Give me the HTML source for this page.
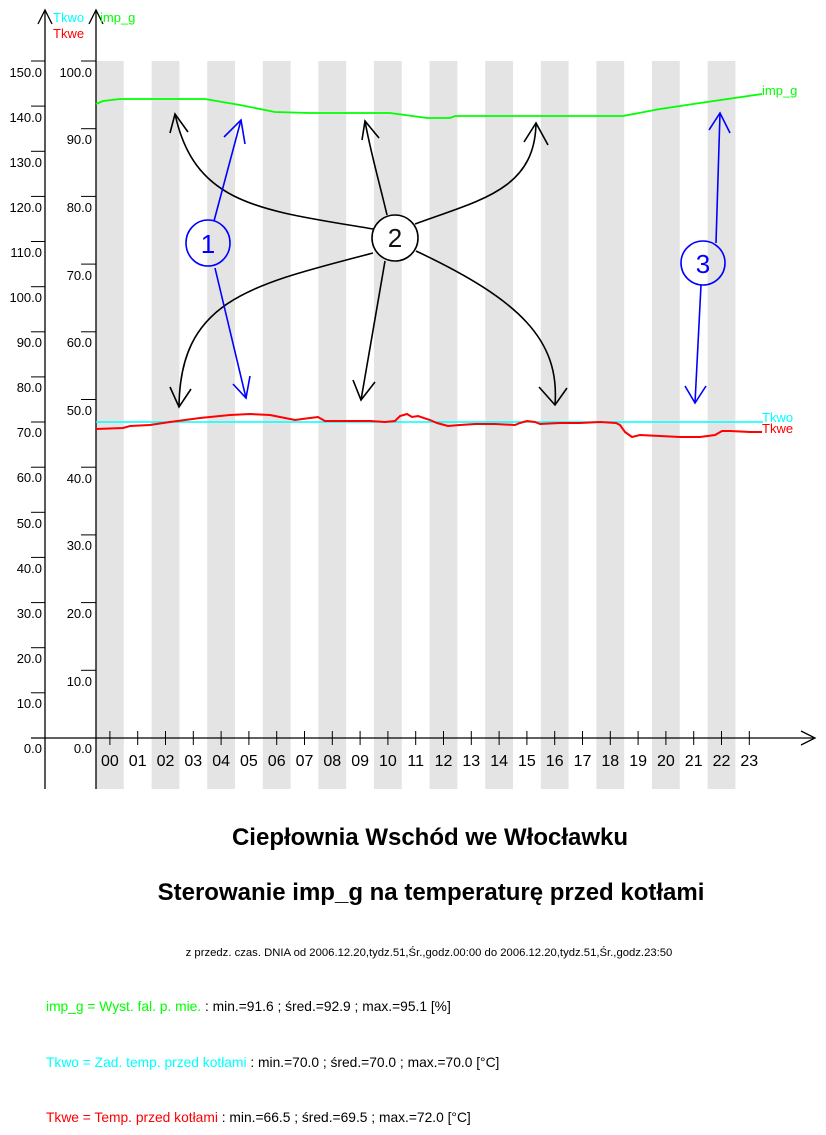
<!DOCTYPE html>
<html><head><meta charset="utf-8"><style>
html,body{margin:0;padding:0;background:#fff;}
svg{display:block;}
text{font-family:"Liberation Sans",Arial,sans-serif;}
</style></head><body>
<svg width="826" height="1135" viewBox="0 0 826 1135" xmlns="http://www.w3.org/2000/svg">
<g fill="#e4e4e4">
<rect x="96" y="61" width="27.8" height="728"/>
<rect x="151.6" y="61" width="27.8" height="728"/>
<rect x="207.2" y="61" width="27.8" height="728"/>
<rect x="262.8" y="61" width="27.8" height="728"/>
<rect x="318.4" y="61" width="27.8" height="728"/>
<rect x="374" y="61" width="27.8" height="728"/>
<rect x="429.6" y="61" width="27.8" height="728"/>
<rect x="485.2" y="61" width="27.8" height="728"/>
<rect x="540.8" y="61" width="27.8" height="728"/>
<rect x="596.4" y="61" width="27.8" height="728"/>
<rect x="652" y="61" width="27.8" height="728"/>
<rect x="707.6" y="61" width="27.8" height="728"/>
</g>
<g stroke="#000" stroke-width="1.3" fill="none">
<line x1="45" y1="10" x2="45" y2="789"/>
<line x1="96" y1="10" x2="96" y2="789"/>
<polyline points="38,24 45,10 52,24"/>
<polyline points="89,24 96,10 103,24"/>
<line x1="31" y1="738" x2="815" y2="738"/>
<polyline points="801,731 815,738 801,745"/>
</g>
<g stroke="#000" stroke-width="1">
<line x1="31" y1="61" x2="45" y2="61"/><line x1="31" y1="106.1" x2="45" y2="106.1"/><line x1="31" y1="151.3" x2="45" y2="151.3"/><line x1="31" y1="196.4" x2="45" y2="196.4"/><line x1="31" y1="241.5" x2="45" y2="241.5"/><line x1="31" y1="286.7" x2="45" y2="286.7"/><line x1="31" y1="331.8" x2="45" y2="331.8"/><line x1="31" y1="376.9" x2="45" y2="376.9"/><line x1="31" y1="422" x2="45" y2="422"/><line x1="31" y1="467.2" x2="45" y2="467.2"/><line x1="31" y1="512.3" x2="45" y2="512.3"/><line x1="31" y1="557.4" x2="45" y2="557.4"/><line x1="31" y1="602.6" x2="45" y2="602.6"/><line x1="31" y1="647.7" x2="45" y2="647.7"/><line x1="31" y1="692.8" x2="45" y2="692.8"/>
<line x1="81" y1="61" x2="96" y2="61"/><line x1="81" y1="128.7" x2="96" y2="128.7"/><line x1="81" y1="196.4" x2="96" y2="196.4"/><line x1="81" y1="264.1" x2="96" y2="264.1"/><line x1="81" y1="331.8" x2="96" y2="331.8"/><line x1="81" y1="399.5" x2="96" y2="399.5"/><line x1="81" y1="467.2" x2="96" y2="467.2"/><line x1="81" y1="534.9" x2="96" y2="534.9"/><line x1="81" y1="602.6" x2="96" y2="602.6"/><line x1="81" y1="670.3" x2="96" y2="670.3"/>
</g>
<g font-size="13" text-anchor="end" fill="#000">
<text x="42" y="77">150.0</text><text x="42" y="122">140.0</text><text x="42" y="167">130.0</text><text x="42" y="212">120.0</text><text x="42" y="257">110.0</text><text x="42" y="302">100.0</text><text x="42" y="347">90.0</text><text x="42" y="392">80.0</text><text x="42" y="437">70.0</text><text x="42" y="482">60.0</text><text x="42" y="528">50.0</text><text x="42" y="573">40.0</text><text x="42" y="618">30.0</text><text x="42" y="663">20.0</text><text x="42" y="708">10.0</text><text x="42" y="753">0.0</text>
<text x="92" y="77">100.0</text><text x="92" y="144">90.0</text><text x="92" y="212">80.0</text><text x="92" y="280">70.0</text><text x="92" y="347">60.0</text><text x="92" y="415">50.0</text><text x="92" y="483">40.0</text><text x="92" y="550">30.0</text><text x="92" y="618">20.0</text><text x="92" y="686">10.0</text><text x="92" y="753">0.0</text>
</g>
<text x="53" y="22" font-size="13" fill="#00ffff">Tkwo</text>
<text x="53" y="38" font-size="13" fill="#ff0000">Tkwe</text>
<text x="100" y="22" font-size="13" fill="#00ff00">imp_g</text>
<g stroke="#000" stroke-width="1">
<line x1="109.9" y1="731" x2="109.9" y2="745"/><line x1="137.7" y1="731" x2="137.7" y2="745"/><line x1="165.5" y1="731" x2="165.5" y2="745"/><line x1="193.3" y1="731" x2="193.3" y2="745"/><line x1="221.1" y1="731" x2="221.1" y2="745"/><line x1="248.9" y1="731" x2="248.9" y2="745"/><line x1="276.7" y1="731" x2="276.7" y2="745"/><line x1="304.5" y1="731" x2="304.5" y2="745"/><line x1="332.3" y1="731" x2="332.3" y2="745"/><line x1="360.1" y1="731" x2="360.1" y2="745"/><line x1="387.9" y1="731" x2="387.9" y2="745"/><line x1="415.7" y1="731" x2="415.7" y2="745"/><line x1="443.5" y1="731" x2="443.5" y2="745"/><line x1="471.3" y1="731" x2="471.3" y2="745"/><line x1="499.1" y1="731" x2="499.1" y2="745"/><line x1="526.9" y1="731" x2="526.9" y2="745"/><line x1="554.7" y1="731" x2="554.7" y2="745"/><line x1="582.5" y1="731" x2="582.5" y2="745"/><line x1="610.3" y1="731" x2="610.3" y2="745"/><line x1="638.1" y1="731" x2="638.1" y2="745"/><line x1="665.9" y1="731" x2="665.9" y2="745"/><line x1="693.7" y1="731" x2="693.7" y2="745"/><line x1="721.5" y1="731" x2="721.5" y2="745"/><line x1="749.3" y1="731" x2="749.3" y2="745"/>
</g>
<g font-size="16" text-anchor="middle" fill="#000">
<text x="109.9" y="766">00</text><text x="137.7" y="766">01</text><text x="165.5" y="766">02</text><text x="193.3" y="766">03</text><text x="221.1" y="766">04</text><text x="248.9" y="766">05</text><text x="276.7" y="766">06</text><text x="304.5" y="766">07</text><text x="332.3" y="766">08</text><text x="360.1" y="766">09</text><text x="387.9" y="766">10</text><text x="415.7" y="766">11</text><text x="443.5" y="766">12</text><text x="471.3" y="766">13</text><text x="499.1" y="766">14</text><text x="526.9" y="766">15</text><text x="554.7" y="766">16</text><text x="582.5" y="766">17</text><text x="610.3" y="766">18</text><text x="638.1" y="766">19</text><text x="665.9" y="766">20</text><text x="693.7" y="766">21</text><text x="721.5" y="766">22</text><text x="749.3" y="766">23</text>
</g>
<line x1="96" y1="422" x2="763" y2="422" stroke="#00ffff" stroke-width="1.5"/>
<polyline fill="none" stroke="#00ff00" stroke-width="1.8" points="96,104 103,101 120,99 205,99 240,105 275,112 310,113 390,113 420,117 427,118 450,118 455,116 623,116 660,109 700,103 762,94"/>
<polyline fill="none" stroke="#ff0000" stroke-width="2" points="96,429 123,428 130,426 150,425 170,422 200,418 230,415 250,414 270,415 285,418 295,420 310,418 318,417 325,421 350,421 370,421 385,422 395,421 400,416 407,414 412,417 418,416 430,420 437,423 448,426 460,425 475,424 495,424 515,425 520,423 527,421 535,422 540,424 560,423 580,423 600,422 616,423 620,425 625,432 632,437 640,435 660,436 680,437 700,437 715,435 722,431 730,431 750,432 762,432"/>
<text x="762" y="95" font-size="13" fill="#00ff00">imp_g</text>
<text x="762" y="422" font-size="13" fill="#00ffff">Tkwo</text>
<text x="762" y="433" font-size="13" fill="#ff0000">Tkwe</text>
<g stroke="#000" stroke-width="1.6" fill="none">
<circle cx="395" cy="238" r="23" fill="#fff" stroke-width="1.6"/>
<path d="M373,229 C260,210 195,205 175,114"/><polyline points="170,133 175,114 188,132"/>
<path d="M387,215 C380,185 370,150 365,121"/><polyline points="362,140 365,121 379,138"/>
<path d="M415,224 C480,200 535,190 536,123"/><polyline points="524,142 536,123 548,145"/>
<path d="M373,253 C250,285 180,300 179,407"/><polyline points="170,387 179,407 191,389"/>
<path d="M385,261 L361,400"/><polyline points="353,380 361,400 375,382"/>
<path d="M416,251 C520,300 560,340 555,405"/><polyline points="539,387 555,405 567,388"/>
</g>
<text x="395" y="247" font-size="26" text-anchor="middle" fill="#111">2</text>
<g stroke="#0000ff" stroke-width="1.6" fill="none">
<ellipse cx="208" cy="243" rx="22" ry="23"/>
<path d="M214,221 L241,120"/><polyline points="224,137 241,120 245,144"/>
<path d="M215,268 L246,398"/><polyline points="233,384 246,398 250,376"/>
<circle cx="703" cy="263" r="22"/>
<path d="M716,243 L720,113"/><polyline points="709,130 720,113 730,133"/>
<path d="M701,285 L695,403"/><polyline points="685,386 695,403 706,386"/>
</g>
<text x="208" y="253" font-size="26" text-anchor="middle" fill="#0000ff">1</text>
<text x="703" y="273" font-size="26" text-anchor="middle" fill="#0000ff">3</text>
<text x="430" y="845" font-size="24" font-weight="bold" text-anchor="middle" fill="#000">Ciepłownia Wschód we Włocławku</text>
<text x="431" y="900" font-size="24" font-weight="bold" text-anchor="middle" fill="#000">Sterowanie imp_g na temperaturę przed kotłami</text>
<text x="429" y="956" font-size="11.3" text-anchor="middle" fill="#000">z przedz. czas. DNIA od 2006.12.20,tydz.51,Śr.,godz.00:00 do 2006.12.20,tydz.51,Śr.,godz.23:50</text>
<text x="46" y="1011" font-size="13.8"><tspan fill="#00ff00">imp_g = Wyst. fal. p. mie. </tspan><tspan fill="#000">: min.=91.6 ; śred.=92.9 ; max.=95.1 [%]</tspan></text>
<text x="46" y="1067" font-size="13.8"><tspan fill="#00ffff">Tkwo = Zad. temp. przed kotłami </tspan><tspan fill="#000">: min.=70.0 ; śred.=70.0 ; max.=70.0 [°C]</tspan></text>
<text x="46" y="1122" font-size="13.8"><tspan fill="#ff0000">Tkwe = Temp. przed kotłami </tspan><tspan fill="#000">: min.=66.5 ; śred.=69.5 ; max.=72.0 [°C]</tspan></text>
</svg>
</body></html>
